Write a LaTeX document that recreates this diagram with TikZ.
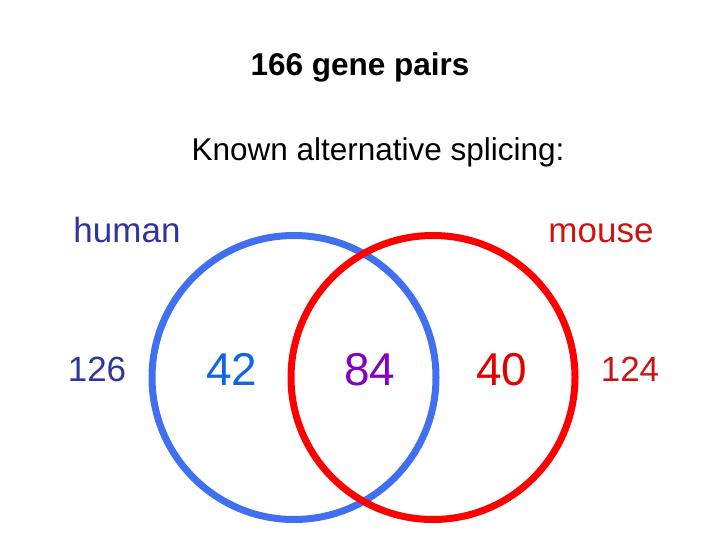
\documentclass[tikz,border=0pt]{standalone}
\usepackage{fontspec}
\setmainfont{Liberation Sans}
\definecolor{hblue}{RGB}{51,51,160}
\definecolor{cblue}{RGB}{64,112,240}
\definecolor{nblue}{RGB}{20,100,230}
\definecolor{npurple}{RGB}{130,0,190}
\definecolor{nred}{RGB}{225,0,0}
\definecolor{mred}{RGB}{205,20,20}
\definecolor{cred}{RGB}{255,0,0}
\tikzset{
  txt/.style={inner sep=0pt, anchor=base},
  big/.style={txt, font=\fontsize{46}{50}\selectfont},
  mid/.style={txt, font=\fontsize{35}{40}\selectfont},
  ttl/.style={txt, font=\fontsize{31.5}{36}\selectfont},
  ring/.style={line width=7pt}
}
\begin{document}
\begin{tikzpicture}[x=1pt,y=-1pt]
\useasboundingbox (0,0) rectangle (720,540);
\node[ttl, font=\fontsize{31.5}{36}\selectfont\bfseries] (title) at (360,76) {166 gene pairs};
\node[ttl] (sub) at (378,161) {Known alternative splicing:};
\node[mid, text=hblue] (human) at (127,243) {human};
\node[mid, text=mred] (mouse) at (601,243) {mouse};
\node[mid, text=hblue] (n126) at (97,381) {126};
\node[mid, text=mred] (n124) at (630,381) {124};
\node[big, text=nblue] (n42) at (232,385) {42};
\node[big, text=npurple] (n84) at (370,385) {84};
\node[big, text=nred] (n40) at (502,385) {40};
\node[circle, draw=cblue, ring, minimum size=284pt, inner sep=0pt] (hc) at (294,377.5) {};
\node[circle, draw=cred, ring, minimum size=284pt, inner sep=0pt] (mc) at (433,377.5) {};
\end{tikzpicture}
\end{document}
